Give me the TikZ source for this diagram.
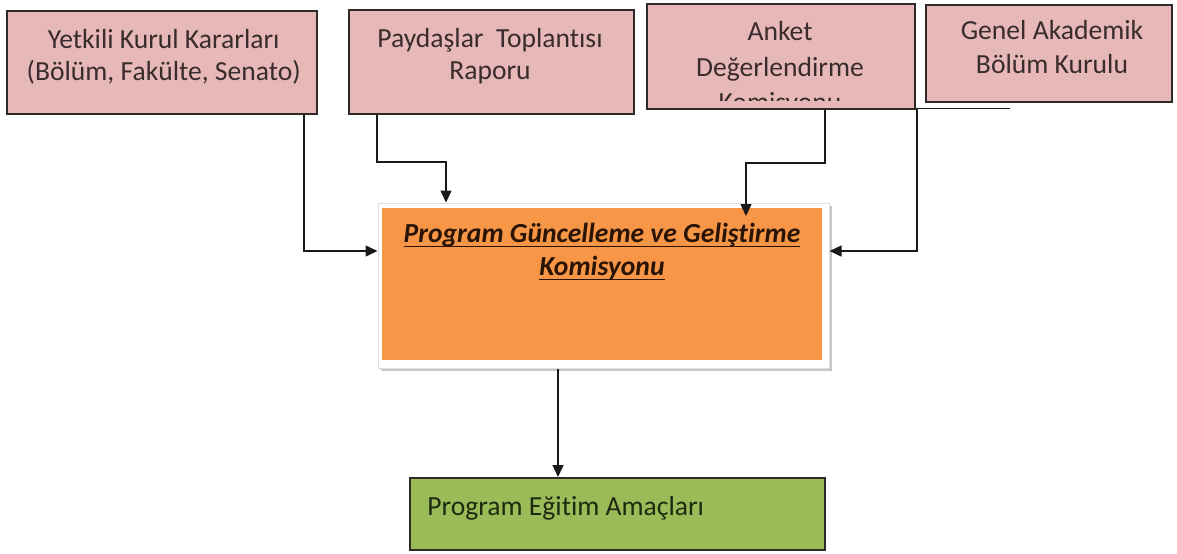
\documentclass[tikz,border=0pt]{standalone}
\usepackage{fontspec}
\setmainfont{Carlito}[Ligatures=CommonOff]
\usetikzlibrary{arrows.meta,shadows}
\definecolor{pinkfill}{HTML}{E6B9B8}
\definecolor{orangefill}{HTML}{F79646}
\definecolor{greenfill}{HTML}{9BBB59}
\definecolor{boxline}{HTML}{2F2A2A}
\definecolor{txtdark}{HTML}{3A2C2C}
\definecolor{txtgreen}{HTML}{1E2A10}
\definecolor{txtorange}{HTML}{2A1405}
\newcommand{\myul}[1]{\setbox0\hbox{#1}\rlap{\rule[-2.6pt]{\wd0}{0.7pt}}\box0}
\begin{document}
\begin{tikzpicture}[x=0.5pt,y=-0.5pt,
  pinkbox/.style={draw=boxline, line width=1pt, fill=pinkfill, inner sep=0pt},
  boxtext/.style={text=txtdark, inner sep=0pt, anchor=base, font=\fontsize{13.8}{16}\selectfont},
  arr/.style={draw=black!90, line width=0.75pt, -{Triangle[length=6pt,width=5.5pt]}},
]
\useasboundingbox (0,0) rectangle (1177,553);
\fill[white] (0,0) rectangle (1177,553);

% top boxes
\node[pinkbox, minimum width=154.7pt, minimum height=51.5pt] (b1) at (162,62.5) {};
\node[pinkbox, minimum width=142.35pt, minimum height=52pt] (b2) at (491.7,62) {};
\node[pinkbox, minimum width=133.85pt, minimum height=52.65pt] (b3) at (781.2,56.7) {};
\node[pinkbox, minimum width=123pt, minimum height=48.5pt] (b4) at (1049,53.5) {};

\node[boxtext] (t1) at (163.7,48.5) {\begin{tabular}[t]{@{}c@{}}Yetkili Kurul Kararları\\(Bölüm, Fakülte, Senato)\end{tabular}};
\node[boxtext] (t2) at (490,47.5) {\begin{tabular}[t]{@{}c@{}}Paydaşlar\ \ Toplantısı\\Raporu\end{tabular}};
\begin{scope}
\clip (649,6) rectangle (913,100.5);
\node[boxtext, font=\fontsize{13.8}{17.8}\selectfont] (t3) at (780,40.5) {\begin{tabular}[t]{@{}c@{}}Anket\\Değerlendirme\\Komisyonu\end{tabular}};
\end{scope}
\node[boxtext, font=\fontsize{13.8}{16.9}\selectfont] (t4) at (1052,39.5) {\begin{tabular}[t]{@{}c@{}}Genel Akademik\\Bölüm Kurulu\end{tabular}};

% central box
\node[draw=gray!25, fill=white, line width=0.5pt, inner sep=0pt,
      minimum width=225.5pt, minimum height=82.5pt,
      general shadow={fill=gray!45, shadow xshift=1.6pt, shadow yshift=-1.6pt}] (og) at (603.5,285.5) {};
\node[fill=orangefill, inner sep=0pt, minimum width=220pt, minimum height=76pt] (oi) at (602,284) {};
\node[anchor=base, inner sep=0pt, text=txtorange, font=\fontsize{13.8}{16.6}\selectfont\bfseries\itshape] (t6) at (602,242)
  {\begin{tabular}[t]{@{}c@{}}\myul{Program Güncelleme ve Geliştirme}\\\myul{Komisyonu}\end{tabular}};

% bottom box
\node[draw=boxline, line width=1pt, fill=greenfill, inner sep=0pt, minimum width=207.5pt, minimum height=36pt] (gr) at (617.5,514) {};
\node[anchor=base west, inner sep=0pt, text=txtgreen, font=\fontsize{13.8}{16}\selectfont] (t5) at (427,515) {Program Eğitim Amaçları};

% connectors
\coordinate (c3end) at (746,216);
\coordinate (c4s) at (1010,108.3);
\draw[arr] (b1.south -| 304,0) |- (og.west |- 0,251);
\draw[arr] (b2.south -| 377,0) -- ++(0,47) -| (og.north -| 446,0);
\draw[arr] (b3.south -| 825,0) -- ++(0,52.4) -| (c3end);
\draw[arr] (c4s) -- (c4s -| 917,0) |- (og.east |- 0,251);
\draw[arr] (og.south -| 558,0) -- (gr.north -| 558,0);
\end{tikzpicture}
\end{document}
